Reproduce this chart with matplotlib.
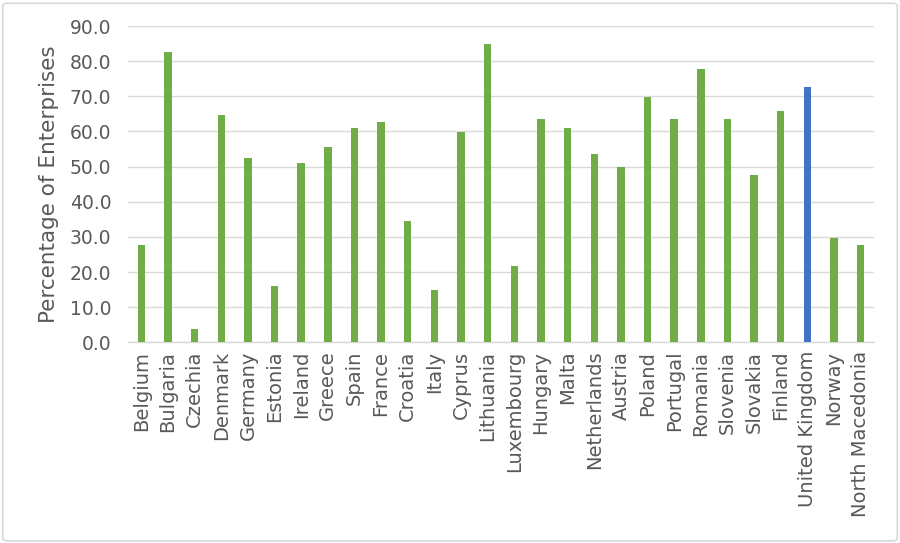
import matplotlib
matplotlib.use("Agg")
import matplotlib.pyplot as plt
from matplotlib.patches import FancyBboxPatch

countries = ["Belgium", "Bulgaria", "Czechia", "Denmark", "Germany", "Estonia", "Ireland",
             "Greece", "Spain", "France", "Croatia", "Italy", "Cyprus", "Lithuania",
             "Luxembourg", "Hungary", "Malta", "Netherlands", "Austria", "Poland",
             "Portugal", "Romania", "Slovenia", "Slovakia", "Finland", "United Kingdom",
             "Norway", "North Macedonia"]
values = [27.6, 82.7, 3.8, 64.7, 52.5, 16.0, 50.9, 55.7, 61.1, 62.6, 34.5, 14.9, 59.8, 84.8,
          21.8, 63.6, 61.0, 53.5, 49.8, 69.9, 63.6, 77.9, 63.6, 47.7, 65.7, 72.6, 29.7, 27.6]
yticks = [0, 10, 20, 30, 40, 50, 60, 70, 80, 90]

GREEN = "#70AD47"
BLUE = "#4472C4"
TXT = "#595959"

plt.rcParams['font.family'] = ['DejaVu Sans']

fig = plt.figure(figsize=(9, 5.43), dpi=100)
ax = fig.add_axes([128/900, 1-342.3/543, (874-128)/900, (342.3-26)/543])

colors = [BLUE if c == "United Kingdom" else GREEN for c in countries]
x = list(range(len(countries)))
ax.bar(x, values, width=0.28, color=colors, zorder=3)

ax.set_ylim(0, 90)
ax.set_xlim(-0.5, len(countries) - 0.5)
ax.set_yticks(yticks)
ax.set_yticklabels([f"{v:.1f}" for v in yticks], fontsize=13.5, color=TXT)
ax.set_xticks(x)
ax.set_xticklabels(countries, rotation=90, fontsize=14, color=TXT)
ax.tick_params(axis='y', length=0, pad=12)
ax.tick_params(axis='x', length=0, pad=6)
ax.yaxis.grid(True, color="#D9D9D9", linewidth=1, zorder=0)
for s in ["top", "right", "left"]:
    ax.spines[s].set_visible(False)
ax.spines["bottom"].set_color("#D9D9D9")
ax.spines["bottom"].set_linewidth(1)
ax.set_ylabel("Percentage of Enterprises", fontsize=15.5, color=TXT, labelpad=8)

border = FancyBboxPatch((0.003, 0.004), 0.994, 0.99, boxstyle="round,pad=0,rounding_size=0.005",
                        transform=fig.transFigure, facecolor="none", edgecolor="#D9D9D9",
                        linewidth=1.2)
fig.patches.append(border)

fig.savefig("out.png", dpi=100)
